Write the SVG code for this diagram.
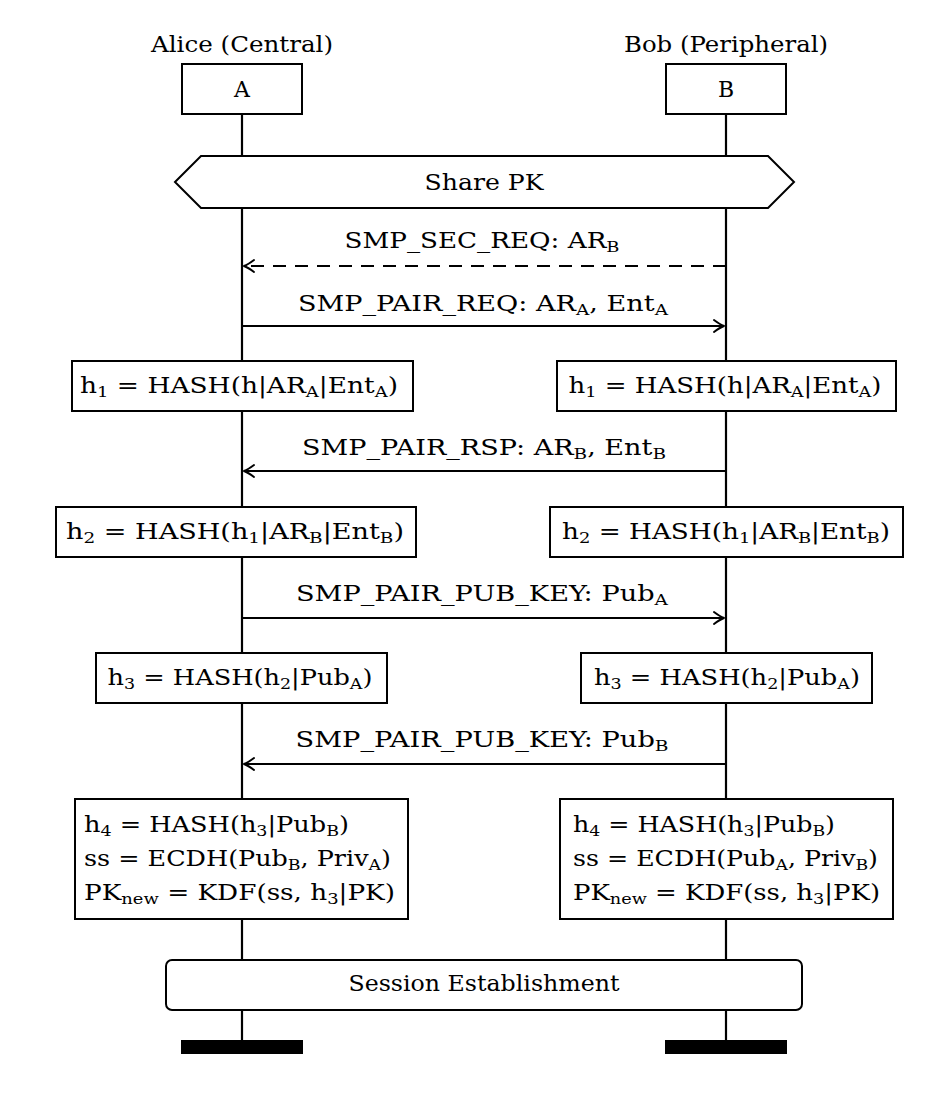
<svg xmlns="http://www.w3.org/2000/svg" width="932" height="1102" viewBox="0 0 932 1102">
<style>
text{font-family:"DejaVu Serif","Liberation Serif",serif;font-size:22px;fill:#000}
.c{text-anchor:middle}
.s{font-size:15px;baseline-shift:-4px}
.box{fill:#fff;stroke:#000;stroke-width:2}
.life{stroke:#000;stroke-width:2.2;fill:none}
.msg{stroke:#000;stroke-width:2;fill:none}
.dash{stroke-dasharray:13 9}
</style>
<defs>
<marker id="ah" viewBox="-12 -8 14 16" refX="0" refY="0" markerWidth="14" markerHeight="16" markerUnits="userSpaceOnUse" orient="auto" overflow="visible">
<path d="M-10,-6 Q-4,-1.5 0,0 Q-4,1.5 -10,6" fill="none" stroke="#000" stroke-width="2" stroke-linecap="round" stroke-linejoin="round"/>
</marker>
</defs>
<rect width="932" height="1102" fill="#fff"/>
<g id="lifelines">
<line class="life" x1="242" y1="114" x2="242" y2="1042"/>
<line class="life" x1="726" y1="114" x2="726" y2="1042"/>
</g>
<g id="actorA">
<text class="c" x="242" y="52" textLength="182" lengthAdjust="spacingAndGlyphs">Alice (Central)</text>
<rect class="box" x="182" y="64" width="120" height="50"/>
<text class="c" x="242" y="97">A</text>
<rect x="181" y="1040" width="122" height="14" fill="#000"/>
</g>
<g id="actorB">
<text class="c" x="726" y="52" textLength="204" lengthAdjust="spacingAndGlyphs">Bob (Peripheral)</text>
<rect class="box" x="666" y="64" width="120" height="50"/>
<text class="c" x="726" y="97">B</text>
<rect x="665" y="1040" width="122" height="14" fill="#000"/>
</g>
<g id="sharePK">
<path class="box" d="M175,182 L201,156 L768,156 L794,182 L768,208 L201,208 Z"/>
<text class="c" x="484" y="190" textLength="119" lengthAdjust="spacingAndGlyphs">Share PK</text>
</g>
<g id="connectors">
<line class="msg dash" x1="726" y1="266" x2="244" y2="266" marker-end="url(#ah)"/>
<text class="c" x="482" y="248" textLength="275" lengthAdjust="spacingAndGlyphs">SMP_SEC_REQ: AR<tspan class="s">B</tspan></text>
<line class="msg" x1="242" y1="326" x2="724" y2="326" marker-end="url(#ah)"/>
<text class="c" x="483" y="311" textLength="370" lengthAdjust="spacingAndGlyphs">SMP_PAIR_REQ: AR<tspan class="s">A</tspan><tspan>, Ent</tspan><tspan class="s">A</tspan></text>
<line class="msg" x1="726" y1="471" x2="244" y2="471" marker-end="url(#ah)"/>
<text class="c" x="484" y="455" textLength="364" lengthAdjust="spacingAndGlyphs">SMP_PAIR_RSP: AR<tspan class="s">B</tspan><tspan>, Ent</tspan><tspan class="s">B</tspan></text>
<line class="msg" x1="242" y1="618" x2="724" y2="618" marker-end="url(#ah)"/>
<text class="c" x="482" y="601" textLength="372" lengthAdjust="spacingAndGlyphs">SMP_PAIR_PUB_KEY: Pub<tspan class="s">A</tspan></text>
<line class="msg" x1="726" y1="764" x2="244" y2="764" marker-end="url(#ah)"/>
<text class="c" x="482" y="747" textLength="373" lengthAdjust="spacingAndGlyphs">SMP_PAIR_PUB_KEY: Pub<tspan class="s">B</tspan></text>
</g>
<g id="h1A">
<rect class="box" x="72" y="361" width="341" height="50"/>
<text class="c" x="239" y="393" textLength="318" lengthAdjust="spacingAndGlyphs">h<tspan class="s">1</tspan><tspan> = HASH(h|AR</tspan><tspan class="s">A</tspan><tspan>|Ent</tspan><tspan class="s">A</tspan><tspan>)</tspan></text>
</g>
<g id="h1B">
<rect class="box" x="557" y="361" width="339" height="50"/>
<text class="c" x="725" y="393" textLength="313" lengthAdjust="spacingAndGlyphs">h<tspan class="s">1</tspan><tspan> = HASH(h|AR</tspan><tspan class="s">A</tspan><tspan>|Ent</tspan><tspan class="s">A</tspan><tspan>)</tspan></text>
</g>
<g id="h2A">
<rect class="box" x="56" y="507" width="360" height="50"/>
<text class="c" x="235" y="539" textLength="338" lengthAdjust="spacingAndGlyphs">h<tspan class="s">2</tspan><tspan> = HASH(h</tspan><tspan class="s">1</tspan><tspan>|AR</tspan><tspan class="s">B</tspan><tspan>|Ent</tspan><tspan class="s">B</tspan><tspan>)</tspan></text>
</g>
<g id="h2B">
<rect class="box" x="550" y="507" width="353" height="50"/>
<text class="c" x="726" y="539" textLength="328" lengthAdjust="spacingAndGlyphs">h<tspan class="s">2</tspan><tspan> = HASH(h</tspan><tspan class="s">1</tspan><tspan>|AR</tspan><tspan class="s">B</tspan><tspan>|Ent</tspan><tspan class="s">B</tspan><tspan>)</tspan></text>
</g>
<g id="h3A">
<rect class="box" x="96" y="653" width="291" height="50"/>
<text class="c" x="240" y="685" textLength="265" lengthAdjust="spacingAndGlyphs">h<tspan class="s">3</tspan><tspan> = HASH(h</tspan><tspan class="s">2</tspan><tspan>|Pub</tspan><tspan class="s">A</tspan><tspan>)</tspan></text>
</g>
<g id="h3B">
<rect class="box" x="581" y="653" width="291" height="50"/>
<text class="c" x="727" y="685" textLength="266" lengthAdjust="spacingAndGlyphs">h<tspan class="s">3</tspan><tspan> = HASH(h</tspan><tspan class="s">2</tspan><tspan>|Pub</tspan><tspan class="s">A</tspan><tspan>)</tspan></text>
</g>
<g id="h4A">
<rect class="box" x="75" y="799" width="333" height="120"/>
<text x="84" y="832" textLength="265" lengthAdjust="spacingAndGlyphs">h<tspan class="s">4</tspan><tspan> = HASH(h</tspan><tspan class="s">3</tspan><tspan>|Pub</tspan><tspan class="s">B</tspan><tspan>)</tspan></text>
<text x="84" y="866" textLength="307" lengthAdjust="spacingAndGlyphs">ss = ECDH(Pub<tspan class="s">B</tspan><tspan>, Priv</tspan><tspan class="s">A</tspan><tspan>)</tspan></text>
<text x="84" y="900" textLength="311" lengthAdjust="spacingAndGlyphs">PK<tspan class="s">new</tspan><tspan> = KDF(ss, h</tspan><tspan class="s">3</tspan><tspan>|PK)</tspan></text>
</g>
<g id="h4B">
<rect class="box" x="560" y="799" width="333" height="120"/>
<text x="573" y="832" textLength="262" lengthAdjust="spacingAndGlyphs">h<tspan class="s">4</tspan><tspan> = HASH(h</tspan><tspan class="s">3</tspan><tspan>|Pub</tspan><tspan class="s">B</tspan><tspan>)</tspan></text>
<text x="573" y="866" textLength="305" lengthAdjust="spacingAndGlyphs">ss = ECDH(Pub<tspan class="s">A</tspan><tspan>, Priv</tspan><tspan class="s">B</tspan><tspan>)</tspan></text>
<text x="573" y="900" textLength="307" lengthAdjust="spacingAndGlyphs">PK<tspan class="s">new</tspan><tspan> = KDF(ss, h</tspan><tspan class="s">3</tspan><tspan>|PK)</tspan></text>
</g>
<g id="session">
<rect class="box" x="166" y="960" width="636" height="50" rx="6"/>
<text class="c" x="484" y="991" textLength="271" lengthAdjust="spacingAndGlyphs">Session Establishment</text>
</g>
</svg>
